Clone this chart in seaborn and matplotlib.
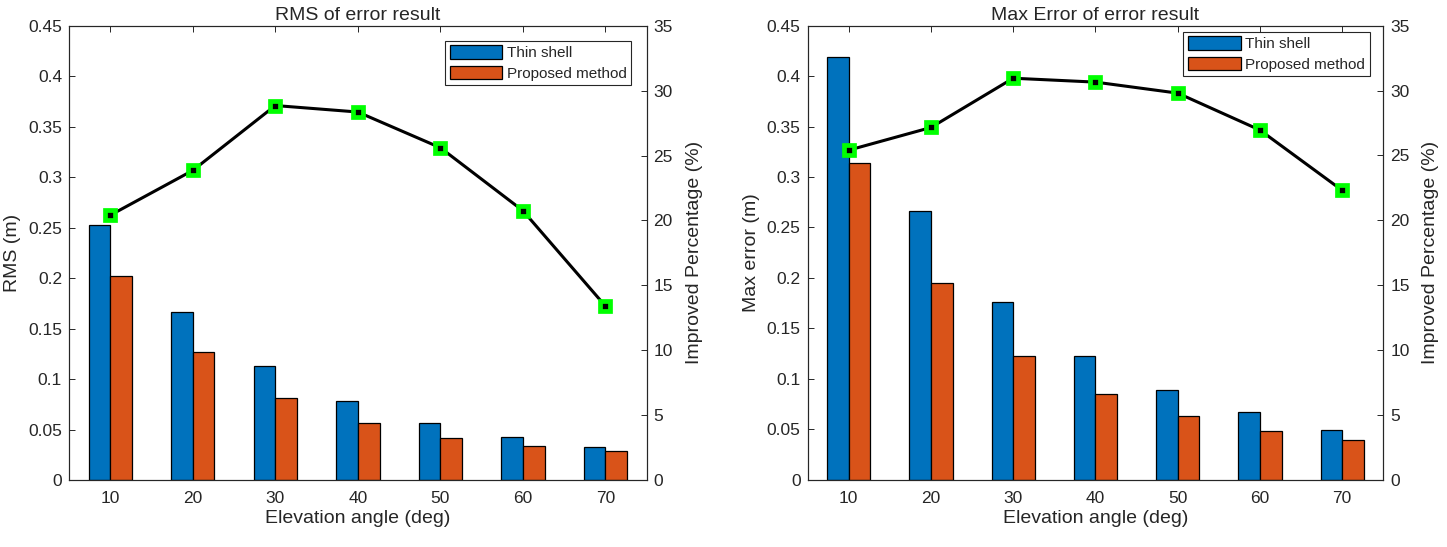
import numpy as np
import pandas as pd
import matplotlib
matplotlib.use('Agg')
import matplotlib.pyplot as plt
import seaborn as sns

# datos
angulos = ['10', '20', '30', '40', '50', '60', '70']
metodos = ['Thin shell', 'Proposed method']

rms_thin = [0.253, 0.1665, 0.113, 0.0785, 0.0563, 0.0428, 0.0325]
rms_prop = [0.202, 0.127, 0.0812, 0.0563, 0.0418, 0.0339, 0.0283]
rms_mejora = [20.4, 23.85, 28.85, 28.35, 25.6, 20.75, 13.4]

max_thin = [0.419, 0.266, 0.176, 0.122, 0.0891, 0.0666, 0.0492]
max_prop = [0.3137, 0.195, 0.122, 0.085, 0.0631, 0.0479, 0.0388]
max_mejora = [25.4, 27.15, 30.95, 30.65, 29.8, 26.95, 22.3]

ytick_izq = [0, 0.05, 0.1, 0.15, 0.2, 0.25, 0.3, 0.35, 0.4, 0.45]
ytick_izq_lab = ['0', '0.05', '0.1', '0.15', '0.2', '0.25', '0.3', '0.35', '0.4', '0.45']
ytick_der = [0, 5, 10, 15, 20, 25, 30, 35]

azul = '#0072BD'
naranja = '#D95319'
gris = '#262626'

sns.set_style('ticks')
plt.rcParams['font.family'] = ['Liberation Sans', 'DejaVu Sans']
plt.rcParams['text.color'] = gris
plt.rcParams['axes.labelcolor'] = gris
plt.rcParams['xtick.color'] = gris
plt.rcParams['ytick.color'] = gris
plt.rcParams['axes.edgecolor'] = gris

fig = plt.figure(figsize=(14.47, 5.47), dpi=100)

paneles = [
    dict(pos=[0.0477, 0.1225, 0.3992, 0.8305], thin=rms_thin, prop=rms_prop, mejora=rms_mejora,
         titulo='RMS of error result', ylab='RMS (m)', leg=(0.973, 0.967)),
    dict(pos=[0.5581, 0.1234, 0.3979, 0.8296], thin=max_thin, prop=max_prop, mejora=max_mejora,
         titulo='Max Error of error result', ylab='Max error (m)', leg=(0.976, 0.987)),
]

for p in paneles:
    df = pd.DataFrame({
        'angulo': angulos * 2,
        'metodo': [metodos[0]] * 7 + [metodos[1]] * 7,
        'valor': p['thin'] + p['prop'],
    })
    ax = fig.add_axes(p['pos'])
    sns.barplot(data=df, x='angulo', y='valor', hue='metodo', palette=[azul, naranja],
                saturation=1, width=0.525, edgecolor='black', linewidth=0.9, ax=ax)
    ax.set_xlim(-0.5, 6.5)
    ax.set_ylim(0, 0.45)
    ax.set_yticks(ytick_izq)
    ax.set_yticklabels(ytick_izq_lab)
    ax.set_xlabel('Elevation angle (deg)', fontsize=14, labelpad=3)
    ax.set_ylabel(p['ylab'], fontsize=14, labelpad=5)
    ax.set_title(p['titulo'], fontsize=14, pad=4)
    ax.tick_params(direction='in', top=True, right=False, labelsize=12.5, length=4, width=0.7)
    ax.tick_params(axis='x', pad=8)
    ax.tick_params(axis='y', pad=5)
    for s in ax.spines.values():
        s.set_linewidth(0.8)

    handles, labels = ax.get_legend_handles_labels()
    ax.get_legend().remove()

    ax2 = ax.twinx()
    sns.lineplot(x=np.arange(len(angulos)), y=p['mejora'], color='black', linewidth=2.2,
                 marker='s', markersize=7.2, markerfacecolor='black', markeredgecolor='#00FF00',
                 markeredgewidth=3.4, ax=ax2)
    ax2.set_ylim(0, 35)
    ax2.set_yticks(ytick_der)
    ax2.set_ylabel('Improved Percentage (%)', fontsize=14, labelpad=9)
    ax2.tick_params(direction='in', labelsize=12.5, length=4, width=0.7, pad=5)
    for s in ax2.spines.values():
        s.set_linewidth(0.8)

    leg = ax2.legend(handles, labels, loc='upper right', bbox_to_anchor=p['leg'],
                     fontsize=11, fancybox=False, edgecolor=gris, framealpha=1,
                     handlelength=3.45, handleheight=1.0, handletextpad=0.28,
                     borderpad=0.3, labelspacing=0.35, borderaxespad=0)
    leg.get_frame().set_linewidth(0.8)

plt.savefig('out.png', dpi=100)
